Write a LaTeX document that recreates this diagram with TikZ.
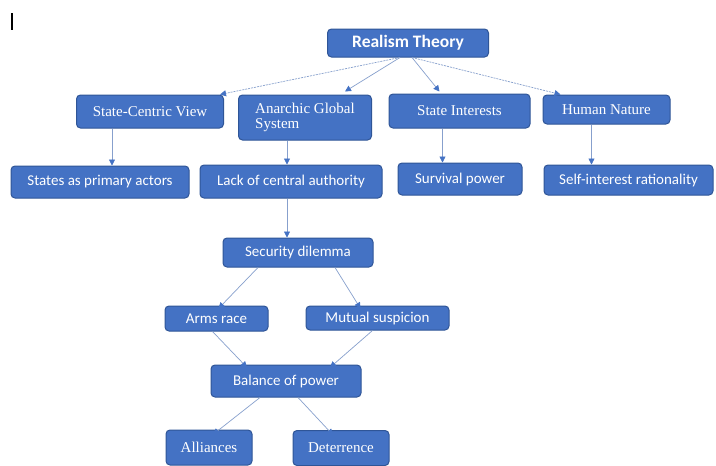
\documentclass[tikz,border=0pt]{standalone}
\usepackage{fontspec}
\setmainfont{Liberation Serif}
\newfontfamily\calfont{Carlito}
\usetikzlibrary{arrows.meta}
\definecolor{boxfill}{RGB}{68,114,196}
\definecolor{boxline}{RGB}{47,85,151}
\definecolor{arrline}{RGB}{135,160,205}
\definecolor{tipcol}{RGB}{68,114,196}
\tikzset{
  box/.style={fill=boxfill, draw=boxline, line width=1pt, rounded corners=4pt, text=white, inner sep=0pt},
  sansbox/.style={box, font=\calfont\fontsize{15}{17}\selectfont},
  serifbox/.style={box, font=\fontsize{15}{15}\selectfont},
  conn/.style={draw=arrline, line width=0.7pt, -{Triangle[length=6pt,width=6pt,fill=tipcol,color=tipcol]}},
  dconn/.style={conn, dash pattern=on 2pt off 1pt}
}
\begin{document}
\begin{tikzpicture}[x=1pt,y=-1pt]
\useasboundingbox (0,0) rectangle (716,466);
\fill[white] (0,0) rectangle (716,466);
\draw[line width=1.2pt] (12,13) -- (12,30);

\node[box, font=\calfont\bfseries\fontsize{17.5}{19}\selectfont, minimum width=161pt, minimum height=28pt] (rt) at (408,43) {Realism Theory};

\node[serifbox, minimum width=147pt, minimum height=33pt] (scv) at (150,111.5) {State-Centric View};
\node[serifbox, minimum width=133pt, minimum height=45pt, align=left] (ags) at (305,117.5) {Anarchic Global\\System};
\node[serifbox, minimum width=141pt, minimum height=34pt] (si) at (459.5,111) {State Interests};
\node[serifbox, minimum width=127pt, minimum height=29pt] (hn) at (606.5,109.5) {Human Nature};

\node[sansbox, minimum width=178pt, minimum height=32pt] (spa) at (100,182) {States as primary actors};
\node[sansbox, minimum width=182pt, minimum height=33pt] (lca) at (291,181.5) {Lack of central authority};
\node[sansbox, minimum width=124pt, minimum height=32pt] (sp) at (460,179) {Survival power};
\node[sansbox, minimum width=169pt, minimum height=30pt] (sir) at (628.5,180) {Self-interest rationality};

\node[sansbox, minimum width=150pt, minimum height=29pt] (sd) at (298,252.5) {Security dilemma};
\node[sansbox, minimum width=103pt, minimum height=25pt] (ar) at (216.5,318.5) {Arms race};
\node[sansbox, minimum width=143pt, minimum height=24pt] (ms) at (377.5,318) {Mutual suspicion};
\node[sansbox, minimum width=150pt, minimum height=32pt] (bp) at (286,381) {Balance of power};
\node[serifbox, minimum width=86pt, minimum height=35pt] (al) at (209,447.5) {Alliances};
\node[serifbox, minimum width=96pt, minimum height=35pt] (de) at (341,448) {Deterrence};

\draw[dconn] ([xshift=-8pt]rt.south) -- ([xshift=70pt]scv.north);
\draw[conn] ([xshift=-8pt]rt.south) -- ([xshift=40pt,yshift=3pt]ags.north);
\draw[conn] ([xshift=4pt]rt.south) -- ([xshift=-20pt,yshift=2pt]si.north);
\draw[dconn] ([xshift=4pt]rt.south) -- ([xshift=-46pt]hn.north);

\draw[conn] ([xshift=-38pt]scv.south) -- ([xshift=-38pt]scv.south |- spa.north);
\draw[conn] ([xshift=-18pt]ags.south) -- ([xshift=-18pt]ags.south |- lca.north);
\draw[conn] ([xshift=-17pt]si.south) -- ([xshift=-17pt]si.south |- sp.north);
\draw[conn] ([xshift=-15pt]hn.south) -- ([xshift=-15pt]hn.south |- sir.north);
\draw[conn] ([xshift=-4pt]lca.south) -- ([xshift=-4pt]lca.south |- sd.north);

\draw[conn] ([xshift=-40pt]sd.south) -- ([xshift=2pt,yshift=-3pt]ar.north);
\draw[conn] ([xshift=37pt]sd.south) -- ([xshift=-17pt,yshift=-3pt]ms.north);
\draw[conn] ([xshift=-4pt]ar.south) -- ([xshift=-39pt,yshift=-3pt]bp.north);
\draw[conn] ([xshift=-5pt]ms.south) -- ([xshift=44pt,yshift=-3pt]bp.north);
\draw[conn] ([xshift=-26pt]bp.south) -- ([xshift=4pt,yshift=-5pt]al.north);
\draw[conn] ([xshift=12pt]bp.south) -- ([xshift=-8pt,yshift=-5pt]de.north);
\end{tikzpicture}
\end{document}
